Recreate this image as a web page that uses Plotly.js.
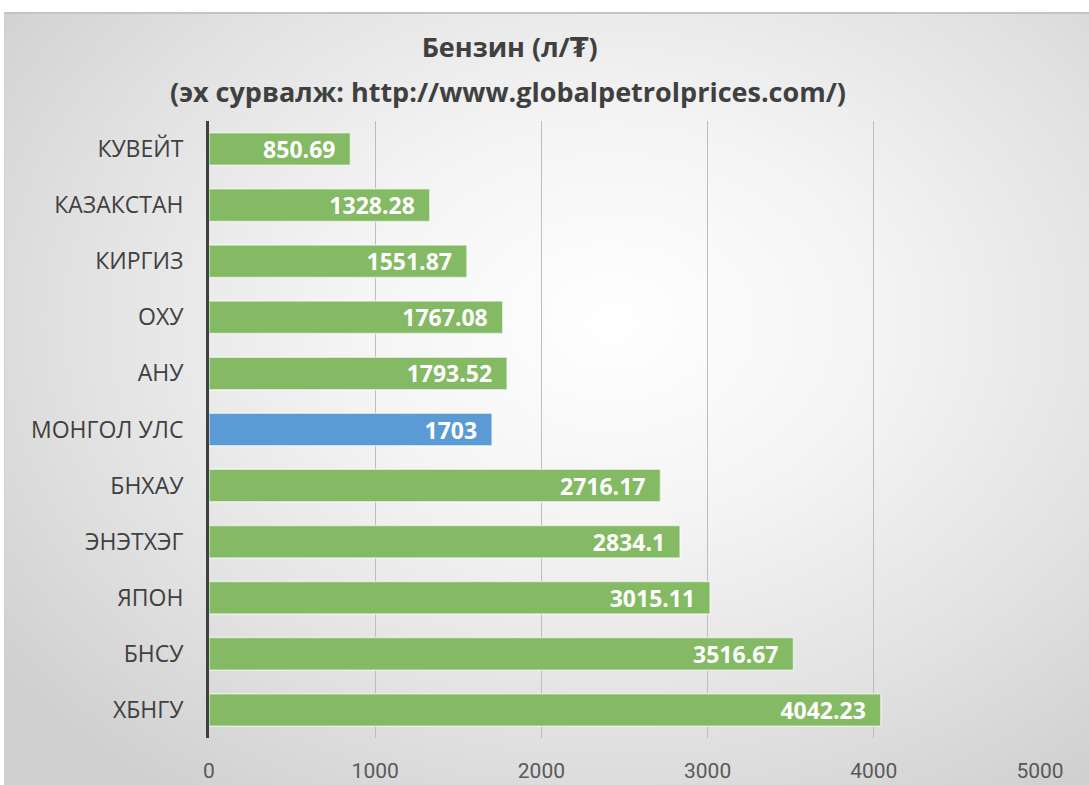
<!DOCTYPE html>
<html>
<head>
<meta charset="utf-8">
<script src="https://cdn.plot.ly/plotly-3.0.1.min.js"></script>
<style>
html,body{margin:0;padding:0;background:#fff;}
#bg{position:absolute;left:4px;top:12px;width:1085px;height:773px;border-top:2px solid #c4c4c4;border-left:1px solid #d0d0d0;box-sizing:border-box;
background:radial-gradient(ellipse 70% 75% at 56% 40%, #ffffff 0%, #f4f4f4 35%, #e2e2e2 70%, #d0d0d0 100%);}
#chart{position:absolute;left:0;top:0;width:1089px;height:785px;}
</style>
</head>
<body>
<div id="bg"></div>
<div id="chart"></div>
<script>
const countries = ["КУВЕЙТ","КАЗАКСТАН","КИРГИЗ","ОХУ","АНУ","МОНГОЛ УЛС","БНХАУ","ЭНЭТХЭГ","ЯПОН","БНСУ","ХБНГУ"];
const prices = [850.69, 1328.28, 1551.87, 1767.08, 1793.52, 1703, 2716.17, 2834.1, 3015.11, 3516.67, 4042.23];
const barColors = ["#84ba63","#84ba63","#84ba63","#84ba63","#84ba63","#5b9bd5","#84ba63","#84ba63","#84ba63","#84ba63","#84ba63"];
const xTicks = [0,1000,2000,3000,4000,5000];
const titleLine1 = "Бензин (л/₮)";
const titleLine2 = "(эх сурвалж: http://www.globalpetrolprices.com/)";

const trace = {
  type: "bar",
  orientation: "h",
  y: countries,
  x: prices,
  text: prices.map(v => String(v) + "\u00a0\u00a0"),
  textposition: "inside",
  insidetextanchor: "end",
  constraintext: "none",
  textfont: {family: "Open Sans, sans-serif", size: 23, color: "#ffffff", weight: "bold"},
  marker: {color: barColors, line: {color: "rgba(255,255,255,0.6)", width: 1.5}},
  width: 0.58,
  hoverinfo: "none",
  cliponaxis: false
};

const layout = {
  width: 1089, height: 785,
  paper_bgcolor: "rgba(0,0,0,0)",
  plot_bgcolor: "rgba(0,0,0,0)",
  margin: {l: 209, r: 49, t: 121, b: 47},
  showlegend: false,
  title: {
    text: "<b>" + titleLine1 + "</b>",
    font: {family: "Open Sans, DejaVu Sans, sans-serif", size: 27, color: "#404040"},
    x: 0.468, xanchor: "center",
    yref: "container",
    y: 1 - 48/785, yanchor: "middle"
  },
  annotations: [{
    text: "<b>" + titleLine2 + "</b>",
    xref: "paper", yref: "paper",
    x: (508 - 209) / (1089 - 209 - 49), xanchor: "center",
    y: 1 + (121 - 92) / (785 - 121 - 47), yanchor: "middle",
    showarrow: false,
    font: {family: "Open Sans, DejaVu Sans, sans-serif", size: 27, color: "#404040"}
  }],
  xaxis: {
    range: [0, 5000],
    tickvals: xTicks,
    ticktext: xTicks.map(String),
    showgrid: true,
    gridcolor: "#bdbdbd",
    gridwidth: 1,
    zeroline: false,
    showline: false,
    ticks: "",
    ticklabelstandoff: 18,
    tickfont: {family: "Liberation Sans Narrow, Roboto, sans-serif", size: 21, color: "#595959"},
    fixedrange: true
  },
  yaxis: {
    type: "category",
    categoryorder: "array",
    categoryarray: countries,
    autorange: "reversed",
    showgrid: false,
    zeroline: false,
    showline: true,
    linecolor: "#404040",
    linewidth: 3,
    ticks: "",
    ticklabelstandoff: 18,
    tickfont: {family: "Open Sans, sans-serif", size: 23, color: "#404040"},
    fixedrange: true
  },
  font: {family: "Open Sans, sans-serif"}
};

Plotly.newPlot("chart", [trace], layout, {displayModeBar: false, staticPlot: true});
</script>
</body>
</html>
